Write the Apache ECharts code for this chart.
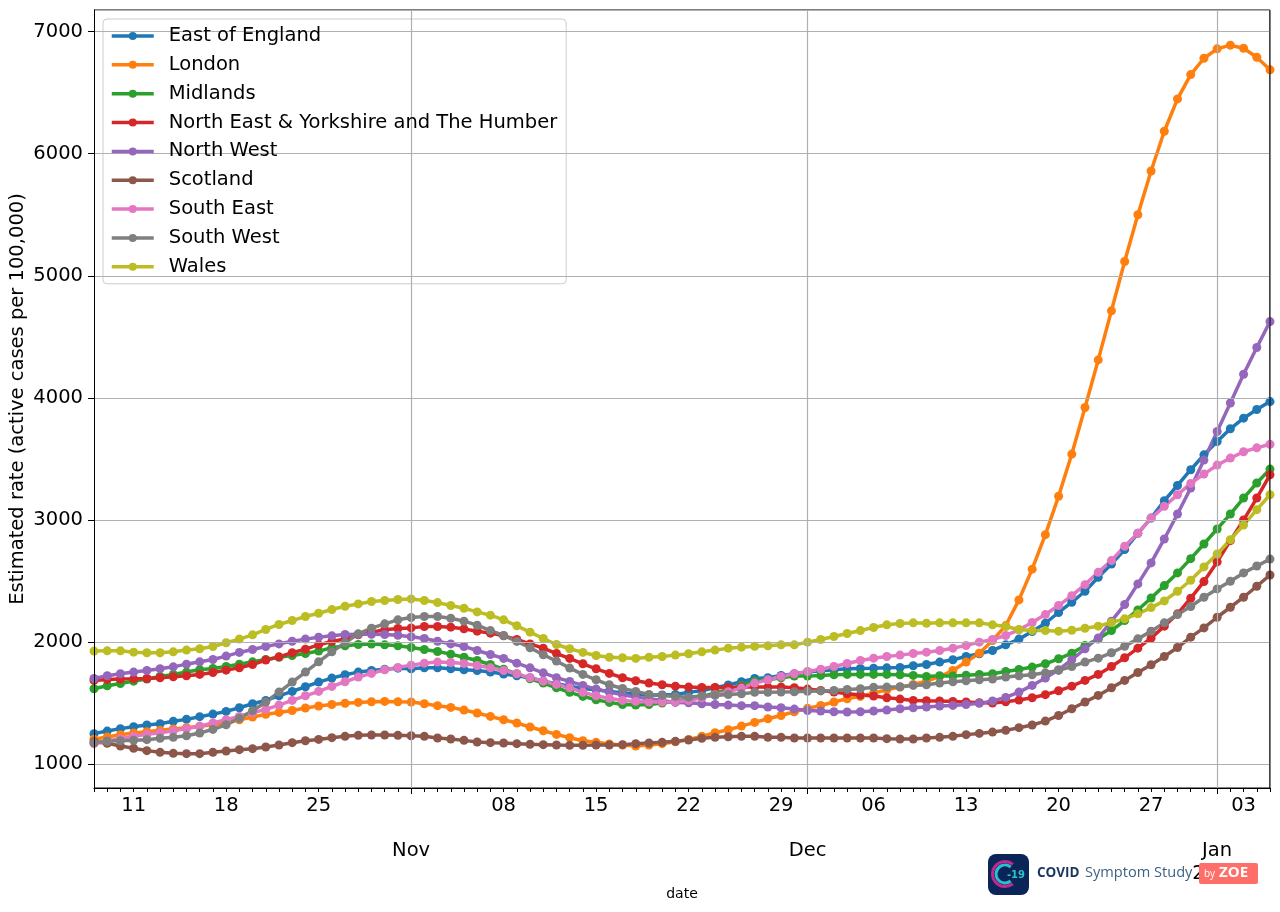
<!DOCTYPE html>
<html>
<head>
<meta charset="utf-8">
<script src="https://cdn.jsdelivr.net/npm/echarts@6/dist/echarts.min.js"></script>
<style>
  html, body { margin: 0; background: #fff; }
  #main { width: 1280px; height: 912px; }
</style>
</head>
<body>
<div id="main"></div>
<script>
// daily axis, 8 Oct 2021 to 5 Jan 2022
var dates = [];
for (var t = Date.UTC(2021, 9, 8); t <= Date.UTC(2022, 0, 5); t += 86400000) {
    dates.push(new Date(t).toISOString().slice(0, 10));
}
var weekTicks = ['2021-10-11', '2021-10-18', '2021-10-25', '2021-11-08', '2021-11-15', '2021-11-22', '2021-11-29',
    '2021-12-06', '2021-12-13', '2021-12-20', '2021-12-27', '2022-01-03'];
var monthTicks = ['2021-11-01', '2021-12-01', '2022-01-01'];
var monthLabels = ['Nov', 'Dec', 'Jan\n2022'];

var eastOfEngland = [1251,1272,1292,1308,1322,1332,1352,1368,1390,1411,1433,1463,1496,1523,1561,1597,1635,1673,1706,1733,1755,1768,1779,1787,1782,1790,
    1790,1782,1774,1768,1755,1739,1725,1709,1681,1659,1640,1621,1610,1597,1586,1572,1567,1567,1572,1589,1605,1627,1649,1676,1703,
    1709,1728,1741,1755,1766,1774,1782,1785,1787,1790,1793,1807,1817,1837,1856,1883,1905,1932,1978,2025,2087,
    2155,2243,2327,2417,2531,2640,2758,2891,3016,3158,3283,3412,3534,3643,3747,3834,3905,3970];
var london = [1205,1224,1242,1256,1267,1278,1289,1300,1311,1324,1343,1365,1387,1409,1425,1441,1461,1477,1490,1499,1507,1512,1515,1512,1510,1496,
    1480,1466,1444,1420,1392,1365,1338,1305,1275,1245,1218,1193,1180,1166,1158,1150,1158,1169,1185,1204,1229,1259,1283,1313,1343,
    1373,1400,1430,1458,1482,1510,1537,1556,1583,1610,1632,1654,1681,1719,1768,1837,1910,2014,2136,2346,2598,
    2880,3195,3540,3921,4311,4713,5117,5500,5858,6183,6448,6647,6781,6858,6888,6863,6789,6686];
var midlands = [1619,1643,1662,1681,1698,1719,1736,1755,1774,1785,1801,1820,1839,1858,1877,1891,1907,1927,1954,1970,1981,1984,1978,1970,1956,1940,
    1924,1902,1877,1850,1817,1779,1741,1700,1665,1627,1589,1556,1529,1507,1490,1485,1490,1501,1515,1534,1556,1583,1612,1645,1681,
    1692,1709,1722,1722,1728,1733,1736,1736,1736,1736,1733,1728,1719,1725,1722,1730,1736,1741,1760,1777,1796,
    1823,1864,1910,1973,2025,2095,2177,2264,2362,2463,2567,2684,2804,2927,3049,3180,3303,3417];
var northEastYorkshire = [1687,1695,1698,1700,1703,1709,1717,1725,1736,1752,1771,1790,1817,1853,1880,1913,1943,1978,2006,2027,2060,2082,2101,2112,2117,2128,
    2128,2123,2109,2090,2074,2052,2022,1986,1951,1907,1867,1823,1782,1744,1709,1684,1665,1651,1640,1632,1629,1629,1629,1632,1632,
    1632,1632,1627,1616,1605,1591,1578,1567,1559,1545,1534,1523,1520,1518,1515,1510,1504,1501,1512,1526,1545,
    1570,1602,1640,1687,1736,1801,1872,1951,2033,2131,2232,2360,2496,2657,2831,3000,3180,3370];
var northWest = [1703,1725,1741,1755,1768,1782,1798,1820,1839,1858,1886,1916,1940,1965,1986,2008,2025,2041,2052,2063,2065,2065,2063,2057,2044,2030,
    2008,1986,1965,1932,1899,1867,1828,1790,1749,1709,1679,1646,1616,1591,1570,1550,1537,1523,1507,1504,1496,1490,1485,1480,1480,
    1469,1463,1452,1441,1436,1430,1428,1430,1436,1444,1455,1463,1469,1477,1482,1490,1499,1518,1548,1591,1646,
    1706,1774,1856,1946,2035,2172,2308,2477,2649,2845,3049,3262,3491,3725,3958,4194,4413,4625];
var scotland = [1185,1172,1150,1131,1112,1098,1090,1087,1087,1098,1109,1120,1128,1142,1158,1177,1193,1204,1218,1229,1237,1240,1240,1237,1234,1229,
    1215,1207,1196,1183,1177,1174,1169,1164,1161,1158,1155,1155,1158,1158,1161,1169,1174,1180,1188,1199,1213,1221,1226,1229,1229,
    1221,1221,1215,1215,1215,1215,1215,1215,1215,1210,1207,1207,1215,1221,1229,1243,1253,1264,1278,1300,1322,
    1354,1400,1455,1510,1564,1627,1687,1752,1815,1883,1956,2041,2117,2204,2286,2368,2458,2550];
var southEast = [1169,1191,1210,1229,1245,1259,1275,1292,1311,1338,1365,1392,1422,1450,1485,1523,1561,1597,1638,1676,1714,1744,1774,1793,1812,1828,
    1837,1834,1826,1809,1790,1768,1741,1709,1681,1654,1627,1589,1561,1540,1523,1515,1510,1510,1512,1523,1545,1570,1594,1624,1665,
    1692,1719,1741,1760,1779,1801,1826,1850,1869,1883,1894,1907,1918,1932,1951,1973,2000,2022,2055,2101,2161,
    2226,2300,2381,2471,2572,2668,2785,2891,3016,3112,3207,3300,3376,3450,3507,3559,3591,3620];
var southWest = [1175,1191,1193,1196,1202,1213,1221,1234,1256,1286,1324,1376,1439,1510,1591,1673,1755,1839,1921,1995,2068,2115,2150,2183,2202,2210,
    2210,2196,2172,2139,2095,2055,2006,1954,1897,1845,1788,1736,1692,1651,1621,1597,1572,1564,1556,1550,1559,1564,1572,1578,1589,
    1589,1591,1594,1598,1601,1604,1613,1619,1630,1632,1635,1646,1651,1665,1676,1684,1692,1698,1714,1725,1733,
    1749,1769,1801,1837,1869,1913,1967,2027,2090,2158,2226,2292,2368,2436,2499,2567,2624,2680];
var wales = [1927,1929,1929,1918,1913,1913,1921,1935,1946,1965,1995,2025,2060,2104,2145,2177,2210,2237,2267,2294,2313,2333,2341,2349,2354,2341,
    2324,2300,2278,2248,2221,2183,2134,2082,2030,1981,1946,1916,1891,1877,1872,1867,1877,1883,1894,1905,1921,1935,1951,1959,1967,
    1970,1978,1978,2000,2022,2046,2071,2095,2120,2142,2153,2158,2155,2158,2158,2158,2158,2142,2128,2104,2095,
    2095,2090,2098,2114,2131,2161,2191,2232,2283,2338,2417,2507,2616,2722,2839,2959,3085,3207];

var regionNames = ['East of England', 'London', 'Midlands', 'North East & Yorkshire and The Humber', 'North West',
    'Scotland', 'South East', 'South West', 'Wales'];
var regionValues = [eastOfEngland, london, midlands, northEastYorkshire, northWest, scotland, southEast, southWest, wales];
var colors = ['#1f77b4', '#ff7f0e', '#2ca02c', '#d62728', '#9467bd', '#8c564b', '#e377c2', '#7f7f7f', '#bcbd22'];

var fontName = 'DejaVu Sans';
var labelSize = 19.5;
var myChart = echarts.init(document.getElementById('main'), null, { renderer: 'canvas' });

var option = {
    animation: false,
    color: colors,
    textStyle: { fontFamily: fontName },
    grid: {
        left: 94, right: 10, top: 10, bottom: 124,
        outerBoundsMode: 'none',
        show: true, borderColor: '#000', borderWidth: 1
    },
    legend: {
        data: regionNames,
        orient: 'vertical',
        left: 103,
        top: 19,
        padding: [7, 9, 7, 7],
        itemWidth: 42,
        itemHeight: 10,
        itemGap: 8.85,
        lineStyle: { width: 3.5 },
        backgroundColor: 'rgba(255,255,255,0.8)',
        borderColor: '#ccc',
        borderWidth: 1,
        borderRadius: 4,
        textStyle: { fontFamily: fontName, fontSize: labelSize, color: '#000', padding: [0, 0, 0, 10] }
    },
    xAxis: [
        {
            // daily ticks, weekly labels
            type: 'category',
            data: dates,
            boundaryGap: false,
            z: 4,
            axisLine: { lineStyle: { color: '#000', width: 1 } },
            axisTick: { interval: 0, length: 4, lineStyle: { color: '#000', width: 1 } },
            axisLabel: {
                interval: function (i, value) { return weekTicks.indexOf(value) >= 0; },
                formatter: function (value) { return value.slice(8); },
                margin: 8,
                fontSize: labelSize,
                color: '#000',
                fontFamily: fontName
            },
            splitLine: { show: false }
        },
        {
            // month ticks, month labels and the vertical grid lines
            type: 'category',
            position: 'bottom',
            data: dates,
            boundaryGap: false,
            z: 4,
            name: 'date',
            nameLocation: 'middle',
            nameMoveOverlap: false,
            nameGap: 99,
            nameTextStyle: { fontSize: 14, color: '#000', fontFamily: fontName },
            axisLine: { show: false },
            axisTick: {
                interval: function (i, value) { return monthTicks.indexOf(value) >= 0; },
                length: 6,
                lineStyle: { color: '#000', width: 1 }
            },
            axisLabel: {
                interval: function (i, value) { return monthTicks.indexOf(value) >= 0; },
                formatter: function (value) { return monthLabels[monthTicks.indexOf(value)]; },
                margin: 51,
                fontSize: labelSize,
                lineHeight: 23,
                color: '#000',
                fontFamily: fontName
            },
            splitLine: {
                show: true,
                interval: function (i, value) { return monthTicks.indexOf(value) >= 0; },
                lineStyle: { color: '#b0b0b0', width: 1.2 }
            }
        }
    ],
    yAxis: {
        type: 'value',
        min: 806,
        max: 7176,
        minInterval: 1000,
        maxInterval: 1000,
        z: 4,
        name: 'Estimated rate (active cases per 100,000)',
        nameLocation: 'middle',
        nameMoveOverlap: false,
        nameGap: 66,
        nameTextStyle: { fontSize: labelSize, color: '#000', fontFamily: fontName },
        axisLine: { show: true, lineStyle: { color: '#000', width: 1 } },
        axisTick: { show: true, length: 6, lineStyle: { color: '#000', width: 1 } },
        axisLabel: {
            showMinLabel: false,
            showMaxLabel: false,
            margin: 11,
            fontSize: labelSize,
            color: '#000',
            fontFamily: fontName,
            formatter: function (value) { return String(value); }
        },
        splitLine: { lineStyle: { color: '#b0b0b0', width: 1.2 } }
    },
    series: regionNames.map(function (name, i) {
        return {
            name: name,
            type: 'line',
            xAxisIndex: 0,
            data: regionValues[i],
            symbol: 'circle',
            symbolSize: 9,
            showSymbol: true,
            showAllSymbol: true,
            lineStyle: { width: 3.5 }
        };
    }),
    graphic: [
        // markers stop at the plot frame
        { type: 'rect', silent: true, z: 3, shape: { x: 1270, y: 0, width: 10, height: 790 }, style: { fill: '#fff' } },
        { type: 'rect', silent: true, z: 3, shape: { x: 88, y: 0, width: 6, height: 790 }, style: { fill: '#fff' } },
        { type: 'line', silent: true, z: 5, shape: { x1: 1270, y1: 10, x2: 1270, y2: 788 }, style: { stroke: '#000', lineWidth: 1 } },
        // logo
        { type: 'rect', silent: true, z: 6, shape: { x: 988, y: 854, width: 41, height: 41, r: 8 }, style: { fill: '#0b2559' } },
        { type: 'arc', silent: true, z: 7, shape: { cx: 1005, cy: 874, r: 12.5, startAngle: 0.9, endAngle: 5.4 }, style: { fill: 'none', stroke: '#c2278f', lineWidth: 3 } },
        { type: 'arc', silent: true, z: 7, shape: { cx: 1005, cy: 874, r: 9, startAngle: 0.9, endAngle: 5.4 }, style: { fill: 'none', stroke: '#27c1d0', lineWidth: 3 } },
        { type: 'text', silent: true, z: 7, style: { x: 1016, y: 875, text: '-19', fill: '#2bc4c4', font: 'bold 10px "DejaVu Sans"', align: 'center', verticalAlign: 'middle' } },
        { type: 'text', silent: true, z: 6, style: { x: 1037, y: 873, text: 'COVID', fill: '#17375e', font: 'bold 13.5px "Open Sans"', verticalAlign: 'middle' } },
        { type: 'text', silent: true, z: 6, style: { x: 1085, y: 873, text: 'Symptom Study', fill: '#3d6384', font: '14.6px "Open Sans"', verticalAlign: 'middle' } },
        { type: 'rect', silent: true, z: 6, shape: { x: 1199, y: 863, width: 59, height: 21, r: 2 }, style: { fill: '#ff6f69' } },
        { type: 'text', silent: true, z: 7, style: { x: 1204, y: 874, text: 'by', fill: '#fff', font: '10px "Open Sans"', verticalAlign: 'middle' } },
        { type: 'text', silent: true, z: 7, style: { x: 1219, y: 873, text: 'ZOE', fill: '#fff', font: 'bold 15px "Open Sans"', verticalAlign: 'middle' } }
    ]
};

myChart.setOption(option);
</script>
</body>
</html>
